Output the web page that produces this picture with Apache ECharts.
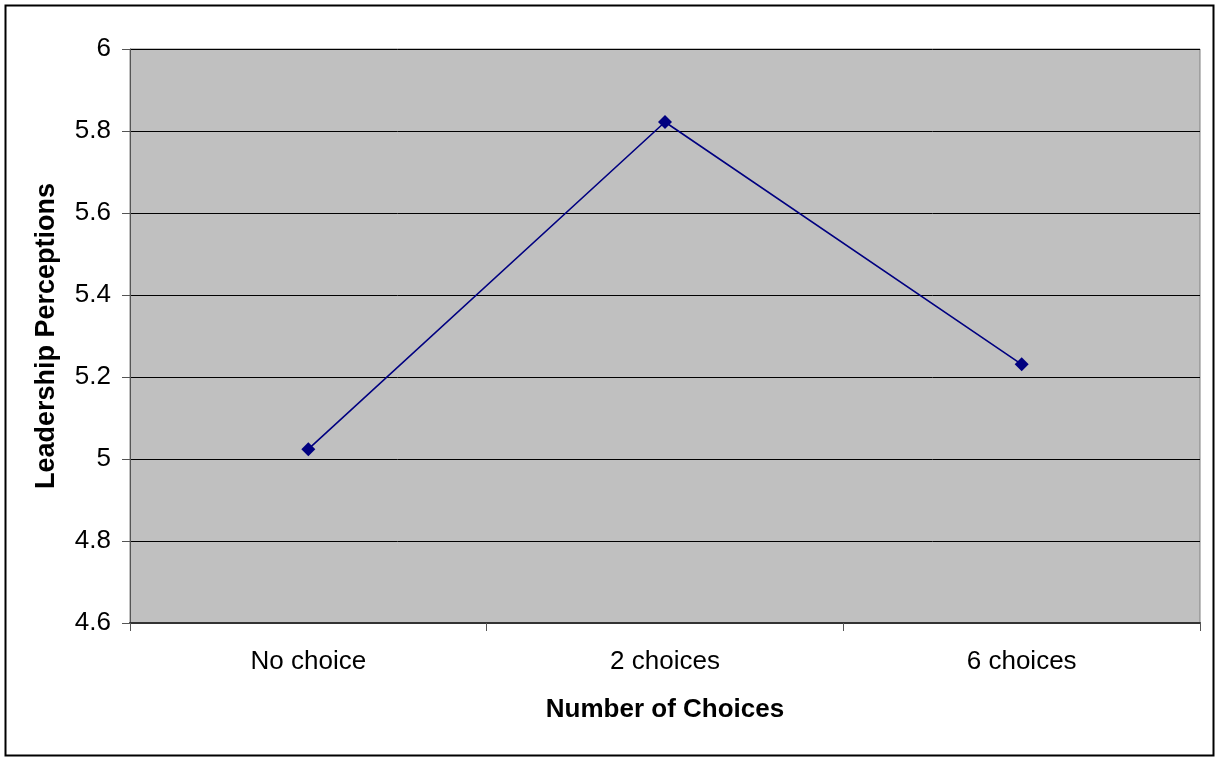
<!DOCTYPE html>
<html><head><meta charset="utf-8">
<script src="https://cdn.jsdelivr.net/npm/echarts@6/dist/echarts.min.js"></script>
<style>html,body{margin:0;padding:0;background:#fff}#c{width:1215px;height:757px}</style>
</head><body><div id="c"></div>
<script>
const categories = ['No choice', '2 choices', '6 choices'];
const values = [5.024, 5.822, 5.231];
const yMin = 4.6, yMax = 6, yStep = 0.2;

const chart = echarts.init(document.getElementById('c'));
chart.setOption({
  animation: false,
  backgroundColor: '#fff',
  textStyle: { fontFamily: 'Liberation Sans, Arial, sans-serif' },
  graphic: [{
    type: 'rect', left: 3, top: 3, z: -1,
    shape: { width: 1208, height: 750 },
    style: { fill: 'none', stroke: '#000', lineWidth: 2 }
  }],
  grid: { left: 130, right: 15, top: 49, bottom: 134, show: true, backgroundColor: '#c0c0c0', borderColor: '#808080', borderWidth: 1 },
  xAxis: {
    type: 'category', data: categories, boundaryGap: true,
    name: 'Number of Choices', nameLocation: 'middle', nameGap: 74,
    nameTextStyle: { fontSize: 26, fontWeight: 'bold', color: '#000' },
    axisLine: { lineStyle: { color: '#333', width: 2 } },
    axisTick: { show: true, length: 8, lineStyle: { color: '#555' } },
    axisLabel: { fontSize: 26, color: '#000', margin: 26 }
  },
  yAxis: {
    type: 'value', min: yMin, max: yMax, interval: yStep,
    name: 'Leadership Perceptions', nameLocation: 'middle', nameGap: 70, nameRotate: 90,
    nameTextStyle: { fontSize: 27, fontWeight: 'bold', color: '#000' },
    axisLine: { show: true, lineStyle: { color: '#555', width: 1 } },
    axisTick: { show: true, length: 8, lineStyle: { color: '#555' } },
    axisLabel: { fontSize: 26, color: '#000', margin: 19, formatter: v => String(+v.toFixed(1)) },
    splitLine: { show: true, lineStyle: { color: '#000', width: 1 } }
  },
  series: [{
    type: 'line', data: values,
    symbol: 'diamond', symbolSize: 14,
    itemStyle: { color: '#000080' },
    lineStyle: { color: '#000080', width: 1.6 }
  }]
});
</script></body></html>
